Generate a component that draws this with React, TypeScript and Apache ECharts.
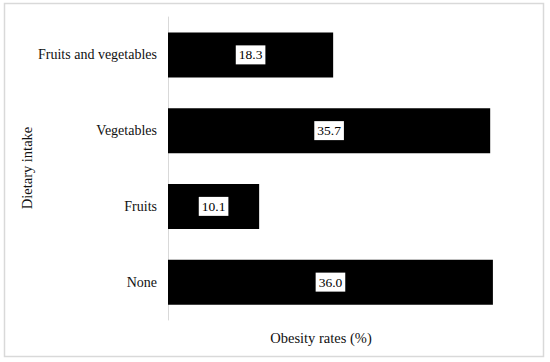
import React, { useEffect, useRef } from "react";
import * as echarts from "echarts";

const categories = ["None", "Fruits", "Vegetables", "Fruits and vegetables"];
const obesityRates = [36.0, 10.1, 35.7, 18.3];
const xAxisTitle = "Obesity rates (%)";
const yAxisTitle = "Dietary intake";

const FONT = "'Liberation Serif', 'DejaVu Serif', serif";

export default function App() {
  const ref = useRef<HTMLDivElement>(null);
  useEffect(() => {
    if (!ref.current) return;
    const chart = echarts.init(ref.current, undefined, { renderer: "svg" });
    chart.setOption({
      animation: false,
      backgroundColor: "#ffffff",
      grid: { left: 168, top: 17, width: 361, height: 303, containLabel: false },
      xAxis: {
        type: "value",
        min: 0,
        max: 40,
        show: false,
      },
      yAxis: {
        type: "category",
        data: categories,
        axisLine: { show: true, lineStyle: { color: "#d9d9d9", width: 1 } },
        axisTick: { show: false },
        axisLabel: { color: "#111111", fontFamily: FONT, fontSize: 14, margin: 11 },
        splitLine: { show: false },
      },
      graphic: [
        {
          type: "rect",
          shape: { x: 4.5, y: 3.5, width: 539, height: 353 },
          style: { fill: "none", stroke: "#d9d9d9", lineWidth: 1.5 },
          silent: true,
        },
        {
          type: "text",
          x: 321,
          y: 338,
          style: {
            text: xAxisTitle,
            fontFamily: FONT,
            fontSize: 14.5,
            fill: "#111111",
            textAlign: "center",
            textVerticalAlign: "middle",
          },
        },
        {
          type: "text",
          x: 27,
          y: 168,
          rotation: Math.PI / 2,
          style: {
            text: yAxisTitle,
            fontFamily: FONT,
            fontSize: 14.5,
            fill: "#111111",
            textAlign: "center",
            textVerticalAlign: "middle",
          },
        },
      ],
      series: [
        {
          type: "bar",
          data: obesityRates,
          barWidth: 45,
          itemStyle: { color: "#000000" },
          label: {
            show: true,
            position: "inside",
            formatter: (p: any) => Number(p.value).toFixed(1),
            color: "#000000",
            backgroundColor: "#ffffff",
            padding: [3, 3, 2, 3],
            fontFamily: FONT,
            fontSize: 13.5,
          },
        },
      ],
    });
    return () => chart.dispose();
  }, []);
  return (
    <div
      ref={ref}
      style={{ position: "fixed", left: 0, top: 0, width: 550, height: 362 }}
    />
  );
}
